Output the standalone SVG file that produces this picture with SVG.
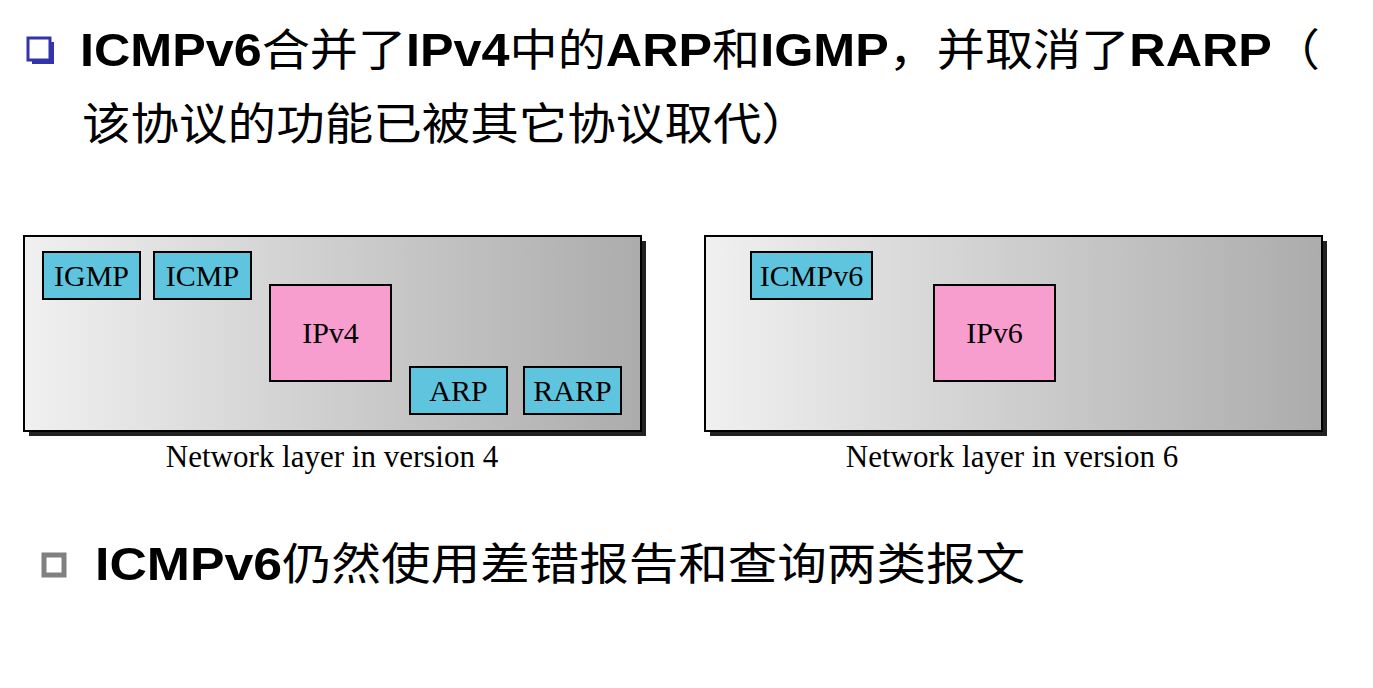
<svg xmlns="http://www.w3.org/2000/svg" width="1373" height="688" viewBox="0 0 1373 688">
<defs>
<linearGradient id="g" x1="0" y1="0" x2="1" y2="0"><stop offset="0" stop-color="#f0f0f0"/><stop offset="1" stop-color="#acacac"/></linearGradient>
<style>
.h{font-family:"Liberation Sans","Noto Sans CJK SC",sans-serif;font-size:46px;font-weight:bold;fill:#000}
.c{font-family:"Noto Sans CJK SC",sans-serif;font-size:44px;font-weight:normal}
.panel{fill:url(#g);stroke:#000;stroke-width:2}
.sh{fill:#222}
.b{fill:#5fc5de;stroke:#000;stroke-width:2}
.p{fill:#f79ecf;stroke:#000;stroke-width:2}
.t{font-family:"Liberation Serif",serif;font-size:30px;fill:#000;text-anchor:middle}
.cap{font-size:31px}
</style>
</defs>
<rect width="1373" height="688" fill="#fff"/>
<g id="bullet1"><rect x="32" y="42" width="22" height="22" fill="#3333aa"/><rect x="28" y="38" width="22" height="22" fill="#fff" stroke="#3333aa" stroke-width="3"/></g>
<text class="h" x="80" y="66" textLength="1240" lengthAdjust="spacingAndGlyphs">ICMPv6<tspan class="c">合并了</tspan>IPv4<tspan class="c">中的</tspan>ARP<tspan class="c">和</tspan>IGMP<tspan class="c">，并取消了</tspan>RARP<tspan class="c">（</tspan></text>
<text class="h" x="82" y="140" textLength="728" lengthAdjust="spacingAndGlyphs"><tspan class="c">该协议的功能已被其它协议取代）</tspan></text>
<g id="v4">
<rect class="sh" x="29" y="241" width="617" height="195"/>
<rect class="panel" x="24" y="236" width="617" height="195"/>
<g id="igmp"><rect class="b" x="43" y="252" width="97" height="47"/><text class="t" x="91.5" y="286">IGMP</text></g>
<g id="icmp"><rect class="b" x="154" y="252" width="97" height="47"/><text class="t" x="202.5" y="286">ICMP</text></g>
<g id="ipv4"><rect class="p" x="270" y="285" width="121" height="96"/><text class="t" x="330.5" y="343">IPv4</text></g>
<g id="arp"><rect class="b" x="410" y="367" width="97" height="47"/><text class="t" x="458.5" y="401">ARP</text></g>
<g id="rarp"><rect class="b" x="524" y="367" width="97" height="47"/><text class="t" x="572.5" y="401">RARP</text></g>
<text class="t cap" x="332" y="467">Network layer in version 4</text>
</g>
<g id="v6">
<rect class="sh" x="710" y="241" width="617" height="195"/>
<rect class="panel" x="705" y="236" width="617" height="195"/>
<g id="icmpv6"><rect class="b" x="751" y="252" width="121" height="47"/><text class="t" x="811.5" y="286">ICMPv6</text></g>
<g id="ipv6"><rect class="p" x="934" y="285" width="121" height="96"/><text class="t" x="994.5" y="343">IPv6</text></g>
<text class="t cap" x="1012" y="467">Network layer in version 6</text>
</g>
<g id="connectors"/>
<g id="bullet2"><rect x="44" y="555" width="20" height="20" fill="none" stroke="#808080" stroke-width="5"/></g>
<text class="h" x="95" y="580" textLength="930" lengthAdjust="spacingAndGlyphs">ICMPv6<tspan class="c">仍然使用差错报告和查询两类报文</tspan></text>
</svg>
